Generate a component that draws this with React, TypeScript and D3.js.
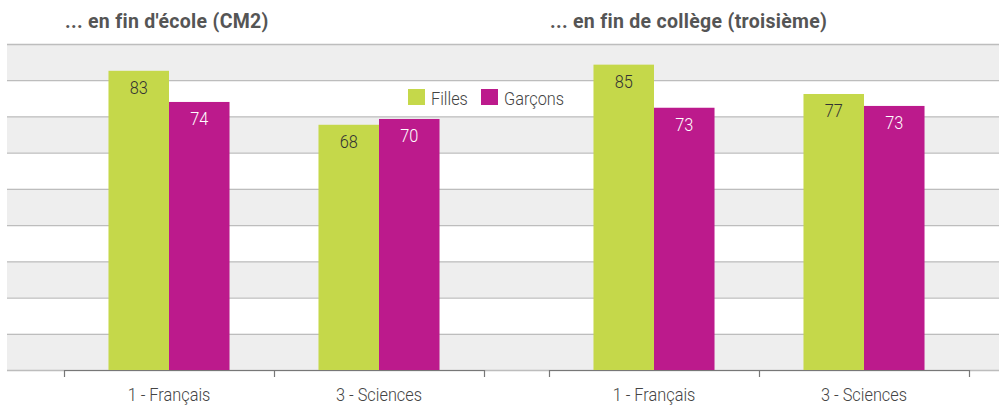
import React from "react";
import * as d3 from "d3";

const panels = ["... en fin d'école (CM2)", "... en fin de collège (troisième)"];
const categories = ["1 - Français", "3 - Sciences"];
const series = ["Filles", "Garçons"];
const filles = [[82.6, 67.7], [84.3, 76.2]];
const garcons = [[74.0, 69.3], [72.4, 72.9]];
const labelsFilles = [[83, 68], [85, 77]];
const labelsGarcons = [[74, 70], [73, 73]];
const yTicks = [0, 10, 20, 30, 40, 50, 60, 70, 80, 90];

const W = 999;
const H = 405;
const GREEN = "#c5d84a";
const MAGENTA = "#bc1a8c";
const TEXT = "#444";
const FONT = "Roboto, 'Noto Sans', sans-serif";

function Narrow(props: { x: number; y: number; anchor?: string; fill: string; size?: number; children: React.ReactNode }) {
  const sx = 0.86;
  return (
    <g transform={`translate(${props.x},${props.y}) scale(${sx},1)`}>
      <text
        x={0}
        y={0}
        textAnchor={props.anchor || "start"}
        fontFamily={FONT}
        fontWeight={300}
        fontSize={props.size || 19}
        fill={props.fill}
      >
        {props.children}
      </text>
    </g>
  );
}

export default function App() {
  const y = d3.scaleLinear().domain([0, 90]).range([370, 44]);
  const panelRanges: [number, number][] = [[64, 484], [549, 969]];
  const bandsY = yTicks.slice(0, -1);
  return (
    <svg width={W} height={H} style={{ position: "absolute", left: 0, top: 0, display: "block" }}>
      <rect x={0} y={0} width={W} height={H} fill="#fff" />
      {bandsY.map((t, i) =>
        i % 2 === 1 ? null : (
          <rect key={"b" + t} x={7} width={W - 7} y={y(t + 10)} height={y(t) - y(t + 10)} fill="#eeeeee" />
        )
      )}
      {yTicks.map((t) => (
        <line key={"g" + t} x1={7} x2={W} y1={y(t) + 0.5} y2={y(t) + 0.5} stroke="#bdbdbd" strokeWidth={1.3} />
      ))}
      {panelRanges.map((r, p) => {
        const x0 = d3.scaleBand().domain(categories).range(r).paddingInner(0).paddingOuter(0);
        const x1 = d3.scaleBand().domain(series).range([0, x0.bandwidth()]).paddingOuter(0.735).paddingInner(0);
        return (
          <g key={"p" + p}>
            <text x={r[0] + 1} y={28} fontFamily={FONT} fontWeight={700} fontSize={19.5} letterSpacing={0.3} fill="#555">
              {panels[p]}
            </text>
            {categories.map((c, ci) => {
              const bx = x0(c)!;
              const vals = [filles[p][ci], garcons[p][ci]];
              const labs = [labelsFilles[p][ci], labelsGarcons[p][ci]];
              return (
                <g key={c}>
                  {series.map((s, si) => {
                    const xx = bx + x1(s)!;
                    const top = y(vals[si]);
                    return (
                      <g key={s}>
                        <rect x={xx} y={top} width={x1.bandwidth()} height={y(0) - top} fill={si === 0 ? GREEN : MAGENTA} />
                        <Narrow x={xx + x1.bandwidth() / 2} y={top + 23} anchor="middle" fill={si === 0 ? "#333" : "#fff"}>
                          {labs[si]}
                        </Narrow>
                      </g>
                    );
                  })}
                  <Narrow x={bx + x0.bandwidth() / 2} y={401} anchor="middle" fill={TEXT}>
                    {c}
                  </Narrow>
                </g>
              );
            })}
            <line x1={r[0]} x2={r[1]} y1={370.5} y2={370.5} stroke="#777" strokeWidth={1.2} />
            {[...categories.map((c) => x0(c)!), r[1]].map((tx, i) => (
              <line key={"t" + i} x1={tx + 0.5} x2={tx + 0.5} y1={370} y2={377} stroke="#777" strokeWidth={1.2} />
            ))}
          </g>
        );
      })}
      <g>
        <rect x={408} y={89} width={17} height={16} fill={GREEN} />
        <Narrow x={431} y={105} fill={TEXT}>
          {series[0]}
        </Narrow>
        <rect x={481} y={89} width={17} height={16} fill={MAGENTA} />
        <Narrow x={504} y={105} fill={TEXT}>
          {series[1]}
        </Narrow>
      </g>
    </svg>
  );
}
